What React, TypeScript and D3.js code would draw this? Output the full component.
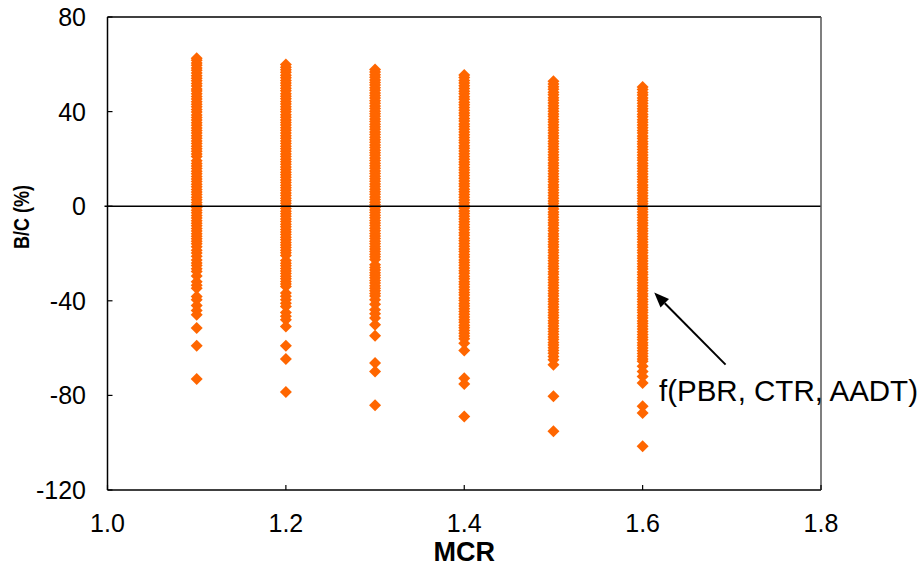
import React from "react";
import * as d3 from "d3";

const mcrValues = [1.1, 1.2, 1.3, 1.4, 1.5, 1.6];

const bc11 = [62.6, 61.7, 60.5, 59.6, 58.4, 57.5, 56.3, 55.2, 54.1, 53.0, 51.9, 50.8, 49.6, 48.7, 47.5, 46.4, 45.3, 44.2, 43.1, 42.0, 40.9, 39.8, 38.6, 37.5, 36.4, 35.3, 34.2, 33.1, 32.0, 30.9, 29.8, 28.7, 27.6, 26.5, 25.4, 24.3, 23.2, 22.1, 21.0, 19.2, 18.1, 17.0, 15.9, 14.8, 13.7, 12.6, 11.5, 10.4, 9.3, 8.2, 7.1, 6.0, 4.9, 3.8, 2.7, 1.6, 0.5, -0.6, -1.7, -2.8, -3.9, -5.0, -6.1, -7.2, -8.3, -9.4, -10.5, -11.6, -12.7, -13.8, -14.8, -15.9, -17.1, -18.6, -19.8, -21.2, -22.7, -24.0, -25.1, -26.4, -27.6, -29.5, -31.9, -33.4, -34.7, -38.2, -39.6, -42.0, -44.1, -45.9, -51.5, -59.0, -73.1];
const bc12 = [59.9, 58.8, 57.7, 56.6, 55.4, 54.3, 53.2, 52.1, 51.0, 49.9, 48.8, 47.6, 46.5, 45.4, 44.3, 43.2, 42.1, 41.0, 39.9, 38.7, 37.6, 36.5, 35.4, 34.3, 33.2, 32.1, 31.0, 29.8, 28.7, 27.6, 26.5, 25.4, 24.3, 23.2, 22.1, 21.0, 19.9, 18.8, 17.7, 16.6, 15.5, 14.4, 13.3, 12.2, 11.1, 10.0, 8.9, 7.8, 6.7, 5.6, 4.5, 3.4, 2.3, 1.2, 0.1, -1.0, -2.1, -3.2, -4.3, -5.4, -6.5, -7.6, -8.7, -9.8, -10.9, -12.0, -13.1, -14.2, -15.3, -16.4, -17.5, -18.6, -19.7, -20.8, -23.0, -24.1, -25.2, -26.3, -27.4, -28.5, -29.6, -30.7, -31.8, -32.9, -34.0, -36.7, -38.1, -39.6, -41.0, -42.4, -45.0, -46.5, -48.0, -50.9, -59.0, -64.6, -78.6];
const bc13 = [57.8, 56.7, 55.6, 54.5, 53.4, 52.3, 51.2, 50.1, 49.0, 47.9, 46.8, 45.7, 44.6, 43.5, 42.4, 41.3, 40.2, 39.1, 38.0, 36.9, 35.8, 34.7, 33.6, 32.5, 31.4, 30.3, 29.2, 28.1, 27.0, 25.9, 24.8, 23.7, 22.6, 21.5, 20.4, 19.3, 18.2, 17.1, 16.0, 14.9, 13.8, 12.7, 11.6, 10.5, 9.4, 8.3, 7.2, 6.1, 5.0, 3.9, 2.8, 1.7, 0.6, -0.5, -1.6, -2.7, -3.8, -4.9, -6.0, -7.1, -8.2, -9.3, -10.4, -11.5, -12.6, -13.7, -14.8, -15.9, -17.0, -18.1, -19.2, -20.3, -21.4, -22.5, -24.8, -25.9, -27.0, -28.1, -29.2, -30.3, -31.4, -32.5, -33.6, -34.7, -35.8, -36.9, -38.0, -39.6, -41.5, -43.8, -45.5, -47.3, -50.1, -54.8, -66.3, -69.9, -84.2];
const bc14 = [55.5, 54.4, 53.2, 52.1, 50.9, 49.8, 48.6, 47.5, 46.3, 45.2, 44.0, 42.9, 41.7, 40.6, 39.4, 38.3, 37.1, 36.0, 34.8, 33.7, 32.5, 31.4, 30.2, 29.1, 27.9, 26.8, 25.6, 24.5, 23.3, 22.2, 21.0, 19.9, 18.7, 17.6, 16.4, 15.3, 14.1, 13.0, 11.8, 10.7, 9.5, 8.4, 7.2, 6.1, 4.9, 3.8, 2.6, 1.5, 0.3, -0.8, -2.0, -3.1, -4.3, -5.4, -6.6, -7.7, -8.9, -10.0, -11.2, -12.3, -13.5, -14.6, -15.8, -16.9, -18.1, -19.2, -20.4, -21.5, -22.7, -23.8, -25.0, -26.1, -27.3, -28.4, -29.6, -30.7, -31.9, -33.0, -34.2, -35.3, -36.5, -37.6, -38.8, -39.9, -41.1, -42.2, -43.4, -44.5, -45.7, -46.8, -48.0, -49.1, -50.3, -51.4, -52.6, -53.7, -54.9, -56.0, -57.9, -61.0, -72.7, -75.2, -88.9];
const bc15 = [52.8, 51.7, 50.5, 49.4, 48.2, 47.1, 45.9, 44.8, 43.6, 42.5, 41.3, 40.2, 39.0, 37.9, 36.7, 35.6, 34.4, 33.3, 32.1, 31.0, 29.8, 28.7, 27.5, 26.4, 25.2, 24.1, 22.9, 21.8, 20.6, 19.5, 18.3, 17.2, 16.0, 14.9, 13.7, 12.6, 11.4, 10.3, 9.1, 8.0, 6.8, 5.7, 4.5, 3.4, 2.2, 1.1, -0.1, -1.2, -2.4, -3.5, -4.7, -5.8, -7.0, -8.1, -9.3, -10.4, -11.6, -12.7, -13.9, -15.0, -16.2, -17.3, -18.5, -19.6, -20.8, -21.9, -23.1, -24.2, -25.4, -26.5, -27.7, -28.8, -30.0, -31.1, -32.3, -33.4, -34.6, -35.7, -36.9, -38.0, -39.2, -40.3, -41.5, -42.6, -43.8, -44.9, -46.1, -47.2, -48.4, -49.5, -50.7, -51.8, -53.0, -54.1, -55.3, -56.4, -57.6, -58.7, -59.9, -61.0, -62.2, -63.5, -64.9, -67.0, -80.4, -95.2];
const bc16 = [50.4, 49.3, 48.1, 47.0, 45.8, 44.7, 43.5, 42.4, 41.2, 40.1, 38.9, 37.8, 36.6, 35.5, 34.3, 33.2, 32.0, 30.9, 29.7, 28.6, 27.4, 26.3, 25.1, 24.0, 22.8, 21.7, 20.5, 19.4, 18.2, 17.1, 15.9, 14.8, 13.6, 12.5, 11.3, 10.2, 9.0, 7.9, 6.7, 5.6, 4.4, 3.3, 2.1, 1.0, -0.2, -1.3, -2.5, -3.6, -4.8, -5.9, -7.1, -8.2, -9.4, -10.5, -11.7, -12.8, -14.0, -15.1, -16.3, -17.4, -18.6, -19.7, -20.9, -22.0, -23.2, -24.3, -25.5, -26.6, -27.8, -28.9, -30.1, -31.2, -32.4, -33.5, -34.7, -35.8, -37.0, -38.1, -39.3, -40.4, -41.6, -42.7, -43.9, -45.0, -46.2, -47.3, -48.5, -49.6, -50.8, -51.9, -53.1, -54.2, -55.4, -56.5, -57.7, -58.8, -60.0, -61.1, -62.3, -63.4, -64.6, -65.6, -67.7, -69.9, -72.0, -74.8, -84.6, -87.4, -101.5];

const bcSeries = [bc11, bc12, bc13, bc14, bc15, bc16];

const xTicks = [1.0, 1.2, 1.4, 1.6, 1.8];
const yTicks = [-120, -80, -40, 0, 40, 80];
const annotationText = "f(PBR, CTR, AADT)";
const annotationTarget = { mcr: 1.613, bc: -36.5 };
const annotationTail = { mcr: 1.693, bc: -67 };

const W = 922;
const H = 571;
const left = 107.5;
const right = 821;
const top = 17;
const bottom = 490;
const font = "'Liberation Sans', Arial, Helvetica, sans-serif";
const orange = "#FF6600";

export default function App() {
  const x = d3.scaleLinear().domain([1.0, 1.8]).range([left, right]);
  const y = d3.scaleLinear().domain([-120, 80]).range([bottom, top]);
  const diamond = d3.symbol().type(d3.symbolSquare).size(72)() as string;

  const points: { mcr: number; bc: number }[] = [];
  mcrValues.forEach((m, i) => bcSeries[i].forEach((v) => points.push({ mcr: m, bc: v })));

  const tip = { x: x(annotationTarget.mcr), y: y(annotationTarget.bc) };
  const tail = { x: x(annotationTail.mcr), y: y(annotationTail.bc) };
  const ang = Math.atan2(tip.y - tail.y, tip.x - tail.x);
  const headLen = 15;
  const headW = 6;
  const bx = tip.x - headLen * Math.cos(ang);
  const by = tip.y - headLen * Math.sin(ang);
  const head = `M${tip.x},${tip.y} L${bx + headW * Math.sin(ang)},${by - headW * Math.cos(ang)} L${bx - headW * Math.sin(ang)},${by + headW * Math.cos(ang)} Z`;

  return (
    <svg width={W} height={H} style={{ position: "absolute", left: 0, top: 0, background: "#fff" }} fontFamily={font}>
      <rect x={0} y={0} width={W} height={H} fill="#fff" />
      {points.map((p, i) => (
        <path key={i} d={diamond} transform={`translate(${x(p.mcr)},${y(p.bc)}) rotate(45)`} fill={orange} />
      ))}
      <line x1={left - 3} x2={right} y1={y(0)} y2={y(0)} stroke="#000" strokeWidth={1.5} />
      <line x1={left} x2={right} y1={top} y2={top} stroke="#000" strokeWidth={1.5} />
      <line x1={left} x2={right} y1={bottom} y2={bottom} stroke="#000" strokeWidth={1.5} />
      <line x1={left} x2={left} y1={top} y2={bottom} stroke="#000" strokeWidth={1.5} />
      <line x1={right} x2={right} y1={top} y2={bottom} stroke="#555" strokeWidth={1.5} />
      {yTicks.map((t) => (
        <g key={"y" + t}>
          <line x1={left} x2={left + 5} y1={y(t)} y2={y(t)} stroke="#000" strokeWidth={1.2} />
          <text x={86} y={y(t)} dy="0.36em" textAnchor="end" fontSize={25} fill="#000">
            {String(t)}
          </text>
        </g>
      ))}
      {xTicks.map((t) => (
        <g key={"x" + t}>
          <line x1={x(t)} x2={x(t)} y1={bottom} y2={bottom - 5} stroke="#000" strokeWidth={1.2} />
          <text x={x(t)} y={532} textAnchor="middle" fontSize={25} fill="#000">
            {t.toFixed(1)}
          </text>
        </g>
      ))}
      <text x={(left + right) / 2} y={561} textAnchor="middle" fontSize={27} fontWeight="bold" fill="#000">
        MCR
      </text>
      <text transform={`translate(29,217) rotate(-90) scale(0.82,1)`} textAnchor="middle" fontSize={22} fontWeight="bold" fill="#000">
        B/C (%)
      </text>
      <line x1={tail.x} y1={tail.y} x2={bx} y2={by} stroke="#000" strokeWidth={2} />
      <path d={head} fill="#000" />
      <text x={659} y={401} fontSize={29.5} fill="#000">
        {annotationText}
      </text>
    </svg>
  );
}
